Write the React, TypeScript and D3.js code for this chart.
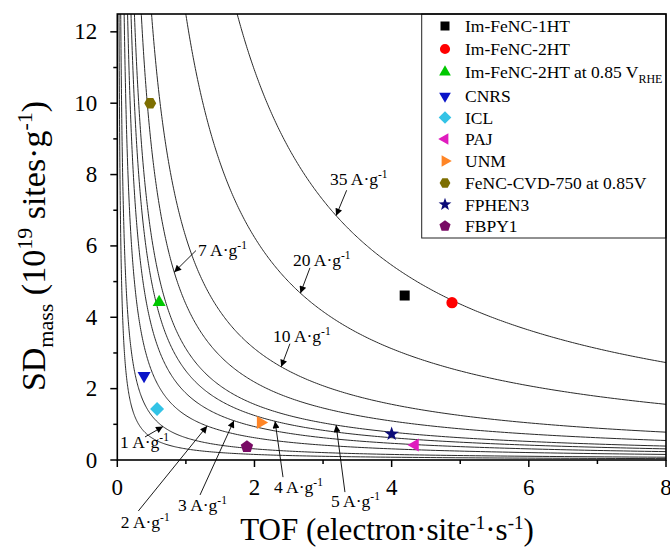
import React from 'react';
import * as d3 from 'd3';

// iso-current lines (A·g-1): SD(1e19 sites/g) = I / (1.602 * TOF)
const currents = [0.5, 1, 2, 3, 4, 5, 7, 10, 20, 35];
const CHARGE = 1.602;

const seriesNames = [
  'Im-FeNC-1HT',
  'Im-FeNC-2HT',
  'Im-FeNC-2HT at 0.85 V',
  'CNRS',
  'ICL',
  'PAJ',
  'UNM',
  'FeNC-CVD-750 at 0.85V',
  'FPHEN3',
  'FBPY1',
];
const seriesTOF = [4.19, 4.88, 0.61, 0.39, 0.58, 4.34, 2.09, 0.48, 4.0, 1.89];
const seriesSD = [4.61, 4.41, 4.42, 2.36, 1.43, 0.42, 1.05, 10.0, 0.73, 0.37];
const seriesColors = ['#000000', '#ff0000', '#00c800', '#0a14c8', '#33c3e6', '#e01cbe', '#ff8526', '#7d6e00', '#0b0b78', '#780a64'];
const seriesShapes = ['square', 'circle', 'up', 'down', 'diamond', 'left', 'right', 'hexagon', 'star', 'pentagon'];

const xTicks = [0, 2, 4, 6, 8];
const xMinor = [1, 3, 5, 7];
const yTicks = [0, 2, 4, 6, 8, 10, 12];
const yMinor = [1, 3, 5, 7, 9, 11];

// annotations (current label, arrow tip TOF on the curve, text anchor & arrow tail in data units)
const annotCurrent = [35, 20, 10, 7, 1, 2, 3, 4, 5];
const annotTipTOF = [3.19, 2.67, 2.39, 0.83, 0.666, 1.31, 1.7, 2.3, 3.19];
const annotTextTOF = [3.1, 2.56, 2.27, 1.176, 0.039, 0.05, 0.885, 2.284, 3.115];
const annotTextSD = [7.7, 5.43, 3.32, 5.73, 0.337, -1.91, -1.43, -0.93, -1.33];
const annotTailTOF = [3.344, 2.809, 2.517, 1.147, 0.404, 0.306, 1.206, 2.416, 3.319];
const annotTailSD = [7.56, 5.385, 3.26, 5.87, 0.646, -1.43, -0.98, -0.48, -0.9];

const W = 670;
const H = 547;
const left = 117.3;
const right = 666;
const top = 14;
const bottom = 460;

const FONT = "'Liberation Serif', Tinos, 'Times New Roman', Times, serif";

function polygon(n: number, r: number, rot: number) {
  const pts: [number, number][] = [];
  for (let i = 0; i < n; i++) {
    const a = rot + (i * 2 * Math.PI) / n;
    pts.push([r * Math.cos(a), r * Math.sin(a)]);
  }
  return 'M' + pts.map((p) => p[0].toFixed(2) + ',' + p[1].toFixed(2)).join('L') + 'Z';
}

function star(ro: number, ri: number) {
  const pts: [number, number][] = [];
  for (let i = 0; i < 10; i++) {
    const r = i % 2 === 0 ? ro : ri;
    const a = -Math.PI / 2 + (i * Math.PI) / 5;
    pts.push([r * Math.cos(a), r * Math.sin(a)]);
  }
  return 'M' + pts.map((p) => p[0].toFixed(2) + ',' + p[1].toFixed(2)).join('L') + 'Z';
}

function shapePath(s: string) {
  switch (s) {
    case 'square':
      return 'M-5,-5L5,-5L5,5L-5,5Z';
    case 'circle':
      return d3.symbol(d3.symbolCircle, 100)() as string;
    case 'up':
      return polygon(3, 7.5, -Math.PI / 2);
    case 'down':
      return polygon(3, 7.5, Math.PI / 2);
    case 'left':
      return polygon(3, 7.5, Math.PI);
    case 'right':
      return polygon(3, 7.5, 0);
    case 'diamond':
      return polygon(4, 7, -Math.PI / 2);
    case 'hexagon':
      return polygon(6, 6, 0);
    case 'star':
      return star(7.5, 3);
    case 'pentagon':
      return polygon(5, 6.5, -Math.PI / 2);
  }
  return '';
}

function Unit({ value }: { value: number }) {
  return (
    <>
      {`${value} A·g`}
      <tspan dy={-7} fontSize={11.5}>
        -1
      </tspan>
    </>
  );
}

const txt = { fontFamily: FONT };

export default function App() {
  const x = d3.scaleLinear().domain([0, 8]).range([left, right]);
  const y = d3.scaleLinear().domain([0, 12.5]).range([bottom, top]);

  const line = d3
    .line<[number, number]>()
    .x((d) => x(d[0]))
    .y((d) => y(d[1]));

  const curves = currents.map((I) => {
    const tMin = I / (CHARGE * 13);
    const n = 300;
    const pts: [number, number][] = d3.range(n + 1).map((i) => {
      const t = tMin * Math.pow(8 / tMin, i / n);
      return [t, I / (CHARGE * t)];
    });
    return line(pts) as string;
  });

  const legendRowY = [26, 49, 72, 96, 117.5, 139, 161, 183, 204.5, 226];

  return (
    <svg
      width={W}
      height={H}
      viewBox={`0 0 ${W} ${H}`}
      style={{ position: 'absolute', left: 0, top: 0, background: '#fff', fontFamily: FONT }}
    >
      <defs>
        <clipPath id="plotClip">
          <rect x={left} y={top} width={right - left} height={bottom - top} />
        </clipPath>
        <marker id="arrowHead" viewBox="0 0 10 10" refX="10" refY="5" markerWidth="10" markerHeight="7" markerUnits="userSpaceOnUse" orient="auto">
          <path d="M0,0L10,5L0,10Z" fill="#000" />
        </marker>
      </defs>
      <rect x={0} y={0} width={W} height={H} fill="#fff" />

      {/* iso-current curves */}
      <g clipPath="url(#plotClip)">
        {curves.map((d, i) => (
          <path key={i} d={d} fill="none" stroke="#2a2a2a" strokeWidth={1} />
        ))}
      </g>

      {/* annotations */}
      {annotCurrent.map((I, i) => {
        const tipT = annotTipTOF[i];
        const tx = x(tipT);
        const ty = y(I / (CHARGE * tipT));
        return (
          <g key={'a' + i}>
            <line
              x1={x(annotTailTOF[i])}
              y1={y(annotTailSD[i])}
              x2={tx}
              y2={ty}
              stroke="#000"
              strokeWidth={0.9}
              markerEnd="url(#arrowHead)"
            />
            <text x={x(annotTextTOF[i])} y={y(annotTextSD[i])} fontSize={17.5} fill="#000" style={txt}>
              <Unit value={I} />
            </text>
          </g>
        );
      })}

      {/* data points */}
      {seriesNames.map((n, i) => (
        <path
          key={'p' + i}
          d={shapePath(seriesShapes[i])}
          transform={`translate(${x(seriesTOF[i])},${y(seriesSD[i])})`}
          fill={seriesColors[i]}
        />
      ))}

      {/* legend */}
      <rect x={421.7} y={top} width={right - 421.7} height={238 - top} fill="#fff" stroke="#222" strokeWidth={1} />
      {seriesNames.map((n, i) => (
        <g key={'l' + i} transform={`translate(0,${legendRowY[i]})`}>
          <path d={shapePath(seriesShapes[i])} transform="translate(445,0) scale(0.9)" fill={seriesColors[i]} />
          <text x={465} y={6} fontSize={17.5} fill="#000" style={txt}>
            {n}
            {i === 2 && (
              <tspan dy={5} fontSize={12}>
                RHE
              </tspan>
            )}
          </text>
        </g>
      ))}

      {/* axes box */}
      <rect x={left} y={top} width={right - left} height={bottom - top} fill="none" stroke="#000" strokeWidth={1.6} />

      {/* x ticks */}
      {xTicks.map((t) => (
        <g key={'xt' + t}>
          <line x1={x(t)} x2={x(t)} y1={bottom} y2={bottom + 7} stroke="#000" strokeWidth={1.5} />
          <text x={x(t)} y={bottom + 35} fontSize={23} textAnchor="middle" fill="#000" style={txt}>
            {t}
          </text>
        </g>
      ))}
      {xMinor.map((t) => (
        <line key={'xm' + t} x1={x(t)} x2={x(t)} y1={bottom} y2={bottom + 4} stroke="#000" strokeWidth={1.5} />
      ))}

      {/* y ticks */}
      {yTicks.map((t) => (
        <g key={'yt' + t}>
          <line x1={left - 7} x2={left} y1={y(t)} y2={y(t)} stroke="#000" strokeWidth={1.5} />
          <text x={left - 20} y={y(t) + 7.5} fontSize={23} textAnchor="end" fill="#000" style={txt}>
            {t}
          </text>
        </g>
      ))}
      {yMinor.map((t) => (
        <line key={'ym' + t} x1={left - 4} x2={left} y1={y(t)} y2={y(t)} stroke="#000" strokeWidth={1.5} />
      ))}

      {/* axis titles */}
      <text x={387} y={540} fontSize={31} textAnchor="middle" fill="#000" style={txt}>
        TOF (electron·site
        <tspan dy={-11} fontSize={19}>-1</tspan>
        <tspan dy={11}>·s</tspan>
        <tspan dy={-11} fontSize={19}>-1</tspan>
        <tspan dy={11}>)</tspan>
      </text>
      <text transform={`translate(45,246) rotate(-90)`} fontSize={34} textAnchor="middle" fill="#000" style={txt}>
        SD
        <tspan dy={8} fontSize={22}>mass</tspan>
        <tspan dy={-8}> (10</tspan>
        <tspan dy={-13} fontSize={22}>19</tspan>
        <tspan dy={13}> sites·g</tspan>
        <tspan dy={-13} fontSize={22}>-1</tspan>
        <tspan dy={13}>)</tspan>
      </text>
    </svg>
  );
}
